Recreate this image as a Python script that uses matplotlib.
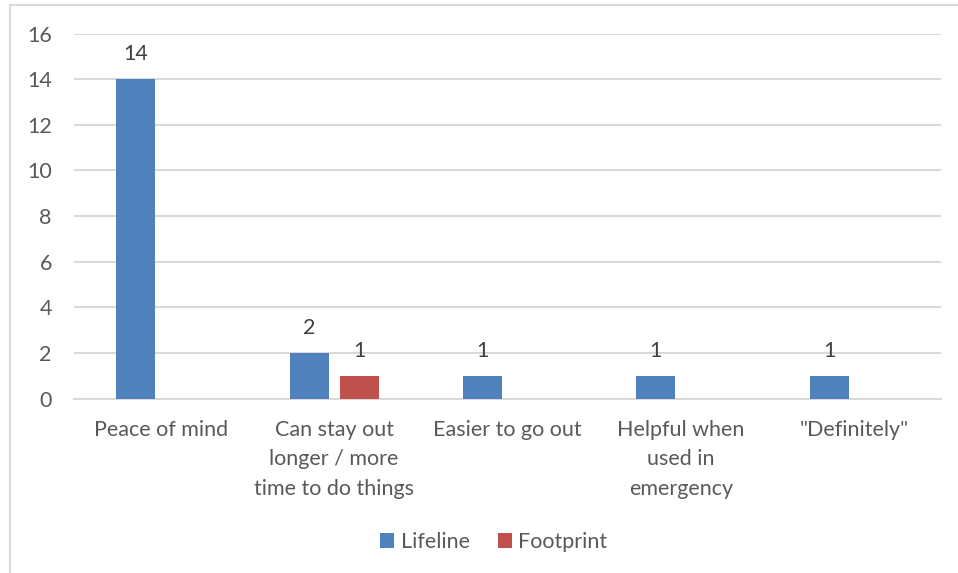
import matplotlib
matplotlib.use("Agg")
import matplotlib.pyplot as plt
import numpy as np
from matplotlib.patches import Rectangle

# survey answers: what the device helps with
categories = ["Peace of mind",
              "Can stay out\nlonger / more\ntime to do things",
              "Easier to go out",
              "Helpful when\nused in\nemergency",
              "\"Definitely\""]
lifeline = [14, 2, 1, 1, 1]
footprint = [None, 1, None, None, None]
y_ticks = [0, 2, 4, 6, 8, 10, 12, 14, 16]

BLUE = "#4F81BD"
RED = "#C0504D"
GRID = "#D9D9D9"
TICK_TXT = "#595959"
LABEL_TXT = "#404040"
FS = 15.5

plt.rcParams["font.family"] = ["Lato", "DejaVu Sans"]

W, H = 958, 573
fig = plt.figure(figsize=(W / 100, H / 100), dpi=100)

# light frame around the chart area (runs off the right and bottom edges)
fig.patches.append(Rectangle((10 / W, -0.2), 1.2, 1.2 - 5 / H, transform=fig.transFigure,
                             fill=False, edgecolor=GRID, linewidth=1.5))

ax = fig.add_axes([74 / W, 1 - 398.7 / H, (941 - 74) / W, (398.7 - 33.5) / H])

x = np.arange(len(categories))
width = 0.225
off = 0.144

ax.bar(x - off, lifeline, width, color=BLUE, label="Lifeline", zorder=3)
fp_x = [xi + off for xi, v in zip(x, footprint) if v is not None]
fp_v = [v for v in footprint if v is not None]
ax.bar(fp_x, fp_v, width, color=RED, label="Footprint", zorder=3)

for xi, v in list(zip(x - off, lifeline)) + list(zip(fp_x, fp_v)):
    ax.annotate(str(v), (xi, v), xytext=(0, 11), textcoords="offset points",
                ha="center", va="bottom", fontsize=FS, color=LABEL_TXT)

ax.set_xlim(-0.5, len(categories) - 0.5)
ax.set_ylim(0, 16)
ax.set_yticks(y_ticks)
ax.yaxis.grid(True, color=GRID, linewidth=1.5, zorder=0)
ax.set_axisbelow(True)
for s in ["top", "right", "left"]:
    ax.spines[s].set_visible(False)
ax.spines["bottom"].set_color(GRID)
ax.spines["bottom"].set_linewidth(1.5)
ax.tick_params(axis="y", length=0, pad=16, labelsize=FS, labelcolor=TICK_TXT)
ax.tick_params(axis="x", length=0, pad=15, labelsize=FS, labelcolor=TICK_TXT)
ax.set_xticks(x)
ax.set_xticklabels(categories, va="top", linespacing=1.62)

leg = fig.legend(loc="center", bbox_to_anchor=(494 / W, 1 - 542 / H), ncol=2, frameon=False,
                 fontsize=FS, handlelength=0.65, handleheight=0.65, handletextpad=0.3,
                 columnspacing=1.3)
for t in leg.get_texts():
    t.set_color(TICK_TXT)

fig.savefig("out.png", dpi=100)
